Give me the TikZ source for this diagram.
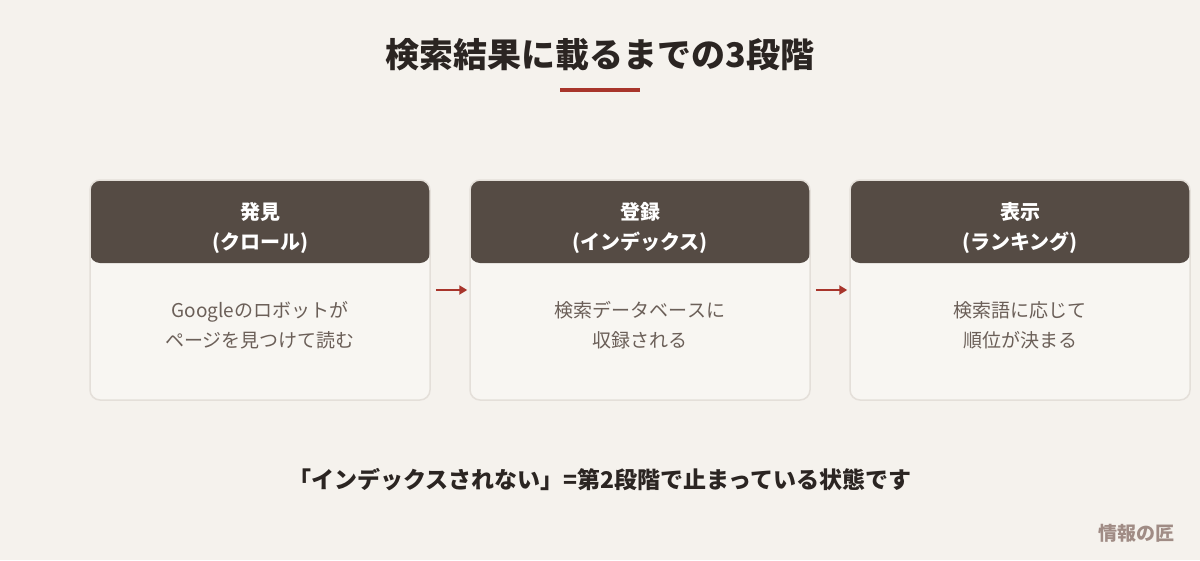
\documentclass[tikz,border=0pt]{standalone}
\usepackage{fontspec}
\setmainfont{Noto Sans CJK JP}
\usetikzlibrary{arrows.meta}
\definecolor{bg}{HTML}{F5F2ED}
\definecolor{card}{HTML}{F8F6F2}
\definecolor{cardline}{HTML}{E4DFD9}
\definecolor{hdr}{HTML}{554B44}
\definecolor{ttl}{HTML}{2B2522}
\definecolor{accent}{HTML}{A8352B}
\definecolor{bodytxt}{HTML}{6B5F58}
\definecolor{wm}{HTML}{A08C85}
\begin{document}
\begin{tikzpicture}[x=1pt,y=-1pt,
  cardbox/.style={draw=cardline,line width=1.5pt,fill=card,rounded corners=10pt,
    minimum width=340pt,minimum height=220pt,inner sep=0pt,
    path picture={\fill[hdr] (path picture bounding box.north west) rectangle ([yshift=-83pt]path picture bounding box.north east);}},
  hdrtxt/.style={text=white,font=\fontsize{20}{30}\selectfont\bfseries,align=center},
  bodytext/.style={text=bodytxt,font=\fontsize{19}{30}\selectfont,align=center},
  arr/.style={draw=accent,line width=2.5pt,-{Triangle[length=8pt,width=9pt]},shorten <=5pt,shorten >=2pt}]
\fill[bg] (0,0) rectangle (1200,560);
\useasboundingbox (0,0) rectangle (1200,560);
\node[text=ttl,font=\fontsize{34}{38}\selectfont\bfseries] (title) at (600,55) {検索結果に載るまでの3段階};
\draw[accent,line width=4pt] (560,90) -- (640,90);
\node[cardbox] (b1) at (260,290) {};
\node[cardbox] (b2) at (640,290) {};
\node[cardbox] (b3) at (1020,290) {};
\node[hdrtxt] (h1) at (260,228) {発見\\(クロール)};
\node[hdrtxt] (h2) at (640,228) {登録\\(インデックス)};
\node[hdrtxt] (h3) at (1020,228) {表示\\(ランキング)};
\node[bodytext] (t1) at (260,325) {Googleのロボットが\\ページを見つけて読む};
\node[bodytext] (t2) at (640,325) {検索データベースに\\収録される};
\node[bodytext] (t3) at (1020,325) {検索語に応じて\\順位が決まる};
\draw[arr] (b1.east) -- (b2.west);
\draw[arr] (b2.east) -- (b3.west);
\node[text=ttl,font=\fontsize{23}{26}\selectfont\bfseries] (note) at (600,480) {「インデックスされない」=第2段階で止まっている状態です};
\node[text=wm,font=\fontsize{19}{20}\selectfont\bfseries] (wmk) at (1136,533) {情報の匠};
\end{tikzpicture}
\end{document}
